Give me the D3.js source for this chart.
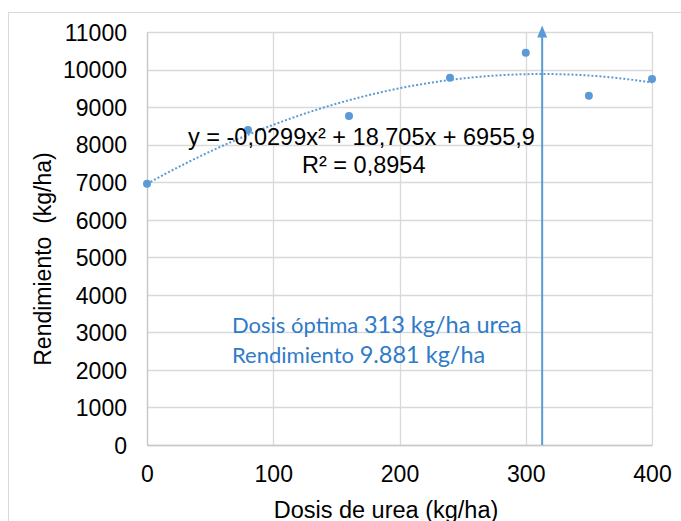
<!DOCTYPE html>
<html>
<head>
<meta charset="utf-8">
<script src="https://cdn.jsdelivr.net/npm/d3@7"></script>
<style>
  html, body { margin: 0; padding: 0; background: #fff; }
  svg { display: block; }
</style>
</head>
<body>
<svg id="chart" width="681" height="521"></svg>
<script>
// Urea dose (kg/ha) and measured yield (kg/ha)
const doses = [0, 80, 160, 240, 300, 350, 400];
const yields = [6960, 8390, 8760, 9780, 10450, 9300, 9750];

// Quadratic fit: y = a x² + b x + c
const coefA = -0.0299, coefB = 18.705, coefC = 6955.9;
const optimalDose = 313;

const xTicks = [0, 100, 200, 300, 400];
const yTicks = [0, 1000, 2000, 3000, 4000, 5000, 6000, 7000, 8000, 9000, 10000, 11000];

const blue = "#5b9bd5";
const textBlue = "#2e7bc8";
const grid = "#d9d9d9";
const sans = "Liberation Sans, Arial, sans-serif";

const svg = d3.select("#chart");
const plotLeft = 147, plotRight = 652, plotTop = 32, plotBottom = 445;

const x = d3.scaleLinear().domain([0, 400]).range([plotLeft, plotRight]);
const y = d3.scaleLinear().domain([0, 11000]).range([plotBottom, plotTop]);

// outer chart frame
svg.append("rect").attr("x", 8.5).attr("y", 12.5).attr("width", 700).attr("height", 600)
  .attr("fill", "none").attr("stroke", "#d9d9d9").attr("stroke-width", 1);

// gridlines
svg.append("g").selectAll("line").data(yTicks).join("line")
  .attr("x1", plotLeft).attr("x2", plotRight)
  .attr("y1", d => Math.round(y(d)) + 0.5).attr("y2", d => Math.round(y(d)) + 0.5)
  .attr("stroke", grid).attr("stroke-width", 1.3);
svg.append("g").selectAll("line").data(xTicks).join("line")
  .attr("y1", plotTop).attr("y2", plotBottom)
  .attr("x1", d => Math.round(x(d)) + 0.5).attr("x2", d => Math.round(x(d)) + 0.5)
  .attr("stroke", grid).attr("stroke-width", 1.3);

// axes
const yAxis = d3.axisLeft(y).tickValues(yTicks).tickSize(0).tickPadding(20).tickFormat(d3.format("d"));
const gy = svg.append("g").attr("transform", `translate(${plotLeft},0)`).call(yAxis);
gy.select(".domain").attr("stroke", "#c8c8c8").attr("stroke-width", 1.3);
gy.selectAll("text").attr("font-family", sans)
  .attr("font-size", 23).attr("fill", "#000").attr("dy", "0.36em");

const xAxis = d3.axisBottom(x).tickValues(xTicks).tickSize(0).tickPadding(21).tickFormat(d3.format("d"));
const gx = svg.append("g").attr("transform", `translate(0,${plotBottom})`).call(xAxis);
gx.select(".domain").attr("stroke", "#c8c8c8").attr("stroke-width", 1.3);
gx.selectAll("text").attr("font-family", sans)
  .attr("font-size", 23).attr("fill", "#000");

// axis titles
svg.append("text").attr("x", 386).attr("y", 518).attr("text-anchor", "middle")
  .attr("font-family", sans).attr("font-size", 23.5)
  .text("Dosis de urea (kg/ha)");
svg.append("text").attr("transform", "translate(51,259) rotate(-90)").attr("text-anchor", "middle")
  .attr("font-family", sans).attr("font-size", 23)
  .style("white-space", "pre")
  .text("Rendimiento  (kg/ha)");

// trendline (dotted)
const fitX = d3.range(0, 401, 2);
const line = d3.line().x(d => x(d)).y(d => y(coefA * d * d + coefB * d + coefC));
svg.append("path").datum(fitX).attr("d", line)
  .attr("fill", "none").attr("stroke", blue).attr("stroke-width", 2)
  .attr("stroke-dasharray", "2,2");

// data points
svg.append("g").selectAll("circle").data(doses).join("circle")
  .attr("cx", d => x(d)).attr("cy", (d, i) => y(yields[i])).attr("r", 4)
  .attr("fill", blue);

// optimum arrow
const ax = x(optimalDose);
const tipY = y(11170);
svg.append("line").attr("x1", ax).attr("x2", ax).attr("y1", plotBottom).attr("y2", tipY + 10)
  .attr("stroke", blue).attr("stroke-width", 2);
svg.append("path")
  .attr("d", `M${ax},${tipY} L${ax - 5},${tipY + 12} L${ax + 5},${tipY + 12} Z`)
  .attr("fill", blue);

// equation
svg.append("text").attr("x", 188).attr("y", 145)
  .attr("font-family", sans).attr("font-size", 23.5)
  .text("y = -0,0299x² + 18,705x + 6955,9");
svg.append("text").attr("x", 302).attr("y", 173)
  .attr("font-family", sans).attr("font-size", 23.5)
  .text("R² = 0,8954");

// annotation
const note = svg.append("g").attr("font-family", "Lato, 'Open Sans', sans-serif").attr("fill", textBlue);
const t1 = note.append("text").attr("x", 232).attr("y", 333);
t1.append("tspan").attr("font-size", 22).text("Dosis óptima ");
t1.append("tspan").attr("font-size", 23.5).text(`${optimalDose} kg/ha urea`);
const t2 = note.append("text").attr("x", 232).attr("y", 363);
t2.append("tspan").attr("font-size", 22).text("Rendimiento ");
t2.append("tspan").attr("font-size", 23.5).text("9.881 kg/ha");
</script>
</body>
</html>
